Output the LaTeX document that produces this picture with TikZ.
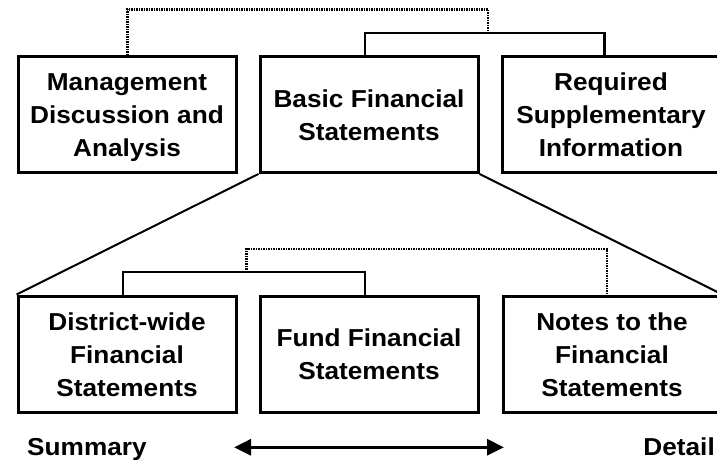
\documentclass[tikz,border=0pt]{standalone}
\usepackage{fontspec}
\newfontfamily\lab[FakeStretch=1.07,BoldFont={Liberation Sans Bold}]{Liberation Sans}
\usetikzlibrary{arrows.meta}
\begin{document}
\begin{tikzpicture}[x=1pt,y=-1pt,
  box/.style={draw, line width=3pt, minimum width=218pt, align=center, inner sep=0pt,
    font=\lab\bfseries\fontsize{24.5}{33}\selectfont},
  txt/.style={inner sep=0pt, font=\lab\bfseries\fontsize{24.5}{33}\selectfont},
  solidb/.style={line width=2.3pt, line cap=rect},
  dotb/.style={line width=2.6pt, dash pattern=on 1.5pt off 1pt},
  funnel/.style={line width=2pt}]
\useasboundingbox (0,0) rectangle (717,462);
% top row
\node[box, minimum height=115.5pt] (mda) at (127,114.75) {Management\\Discussion and\\Anal\smash{y}sis};
\node[box, minimum height=115.5pt] (bfs) at (369,114.75) {Basic Financial\\Statements};
\node[box, minimum height=115.5pt] (rsi) at (611,114.75) {Required\\Supplementary\\Information};
% bottom row
\node[box, minimum height=116.7pt] (dw) at (127,354.35) {District-wide\\Financial\\Statements};
\node[box, minimum height=116.7pt] (ffs) at (369,354.35) {Fund Financial\\Statements};
\node[box, minimum height=116.7pt] (nfs) at (612,354.35) {Notes to the\\Financial\\Statements};
% funnel
\draw[funnel] (bfs.south west) -- (dw.north west);
\draw[funnel] (bfs.south east) -- (nfs.north east);
% top brackets
\coordinate (t1) at (365,32.7);
\coordinate (t2) at (604.5,32.7);
\draw[solidb] (t1 |- bfs.north) -- (t1) -- (t2) -- (t2 |- rsi.north);
\coordinate (d1) at (127.3,9.3);
\coordinate (d2) at (488,9.3);
\draw[dotb] (d1 |- mda.north) -- (d1) -- (d2) -- (d2 |- t1);
% bottom brackets
\coordinate (b1) at (122.7,272.3);
\coordinate (b2) at (365,272.3);
\draw[solidb] (b1 |- dw.north) -- (b1) -- (b2) -- (b2 |- ffs.north);
\coordinate (e1) at (246.7,249);
\coordinate (e2) at (607,249);
\draw[dotb] (e1 |- b1) -- (e1) -- (e2) -- (e2 |- nfs.north);
% scale
\node[txt, anchor=base west] (sum) at (27,455) {Summary};
\node[txt, anchor=base east] (det) at (715,455) {Detail};
\coordinate (aL) at (234,447.3);
\coordinate (aR) at (504,447.3);
\draw[line width=3pt, {Triangle[length=17pt,width=16pt]}-{Triangle[length=17pt,width=16pt]}] (aL) -- (aR);
\end{tikzpicture}
\end{document}
